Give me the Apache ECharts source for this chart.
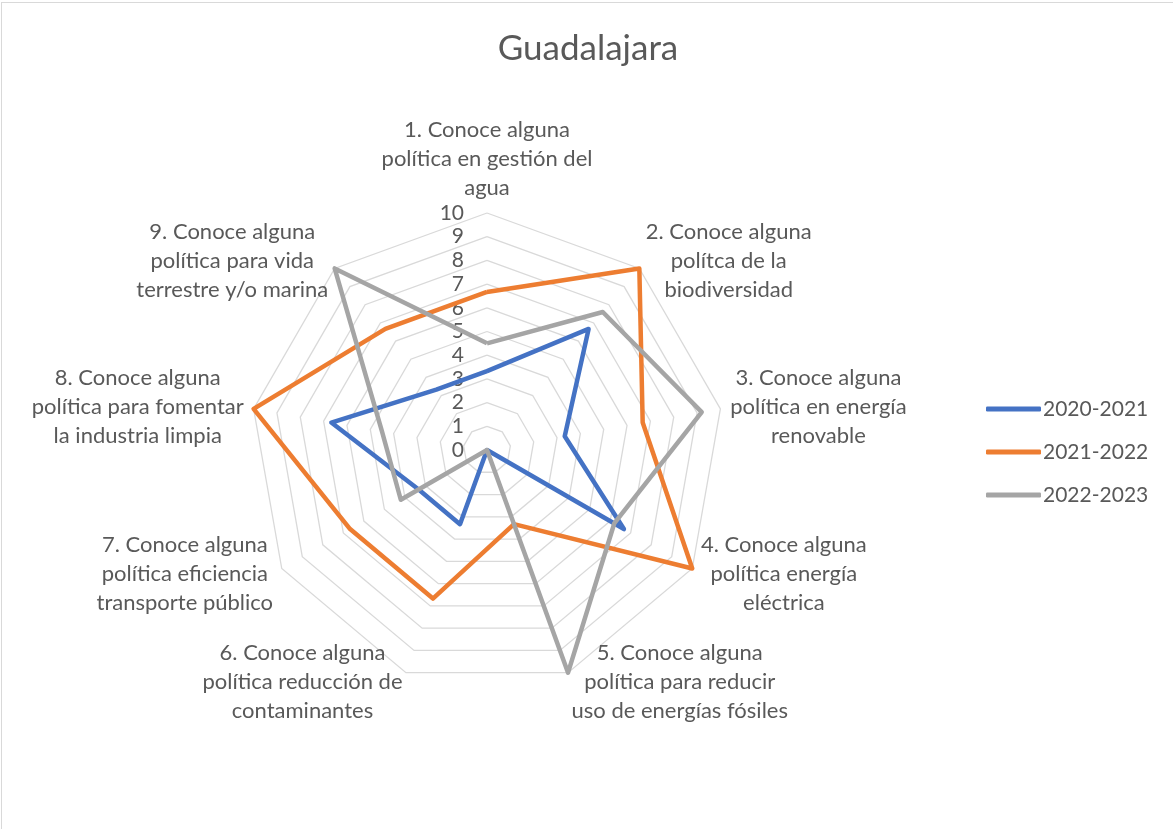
<!DOCTYPE html>
<html>
<head>
<meta charset="utf-8">
<script src="https://cdn.jsdelivr.net/npm/echarts@6/dist/echarts.min.js"></script>
<style>
html,body{margin:0;padding:0;background:#fff;}
#wrap{position:relative;width:1173px;height:829px;overflow:hidden;}
#chart{position:absolute;left:0;top:0;width:1173px;height:829px;}
#frame{position:absolute;left:1px;top:2px;width:1180px;height:840px;border-left:1.5px solid #D9D9D9;border-top:1.5px solid #D9D9D9;pointer-events:none;}
</style>
</head>
<body>
<div id="wrap"><div id="chart"></div><div id="frame"></div></div>
<script>
const titleText = 'Guadalajara';
const categories = [
  '1. Conoce alguna\npolítica en gestión del\nagua',
  '2. Conoce alguna\npolítca de la\nbiodiversidad',
  '3. Conoce alguna\npolítica en energía\nrenovable',
  '4. Conoce alguna\npolítica energía\neléctrica',
  '5. Conoce alguna\npolítica para reducir\nuso de energías fósiles',
  '6. Conoce alguna\npolítica reducción de\ncontaminantes',
  '7. Conoce alguna\npolítica eficiencia\ntransporte público',
  '8. Conoce alguna\npolítica para fomentar\nla industria limpia',
  '9. Conoce alguna\npolítica para vida\nterrestre y/o marina'
];
const seriesNames = ['2020-2021', '2021-2022', '2022-2023'];
const values2020 = [3.33, 6.67, 3.33, 6.67, 0, 3.33, 3.33, 6.67, 3.33];
const values2021 = [6.67, 10, 6.67, 10, 3.33, 6.67, 6.67, 10, 6.67];
const values2022 = [4.5, 7.6, 9.2, 6.2, 10, 0, 4.2, 4.5, 10];
const axisMax = 10;
const colors = ['#4472C4', '#ED7D31', '#A5A5A5'];

const FONT = 'Lato';
const chart = echarts.init(document.getElementById('chart'), null, {renderer: 'canvas'});

// ECharts radar runs counter-clockwise; reorder so categories run clockwise.
const order = categories.map((_, i) => (i === 0 ? 0 : categories.length - i));

const indicator = order.map((k) => {
  const o = {name: categories[k], max: axisMax, min: 0};
  if (k === 0) o.axisLabel = {show: true};
  return o;
});

const allValues = [values2020, values2021, values2022];

chart.setOption({
  animation: false,
  backgroundColor: '#ffffff',
  color: colors,
  title: {
    text: titleText,
    left: 583,
    top: 26,
    textAlign: 'center',
    textStyle: {fontFamily: FONT, fontSize: 35, fontWeight: 'normal', color: '#595959'}
  },
  legend: {
    orient: 'vertical',
    left: 981,
    top: 389,
    itemWidth: 55,
    itemHeight: 5,
    itemGap: 13,
    icon: 'roundRect',
    data: seriesNames,
    textStyle: {fontFamily: FONT, fontSize: 21, color: '#595959', lineHeight: 30, padding: [0,0,0,-3]}
  },
  radar: {
    center: [487, 450],
    radius: 237,
    startAngle: 90,
    splitNumber: 10,
    shape: 'polygon',
    indicator: indicator,
    nameGap: 10,
    axisName: {
      color: '#595959',
      fontFamily: FONT,
      fontSize: 22,
      lineHeight: 29,
      formatter: function (name) {
        return name.split('\n').map(l => '{c|' + l + '}').join('\n');
      },
      rich: {
        c: {align: 'center', color: '#595959', fontFamily: FONT, fontSize: 22, lineHeight: 29}
      }
    },
    axisLine: {show: false},
    axisTick: {show: false},
    axisLabel: {show: false, color: '#595959', fontFamily: FONT, fontSize: 21, margin: 23},
    splitLine: {lineStyle: {color: '#D9D9D9', width: 1.3}},
    splitArea: {show: false}
  },
  series: [{
    type: 'radar',
    symbol: 'none',
    data: allValues.map((v, i) => ({
      name: seriesNames[i],
      value: order.map((k) => v[k]),
      lineStyle: {color: colors[i], width: 4.5, join: 'round'},
      itemStyle: {color: colors[i]}
    }))
  }]
});
</script>
</body>
</html>
